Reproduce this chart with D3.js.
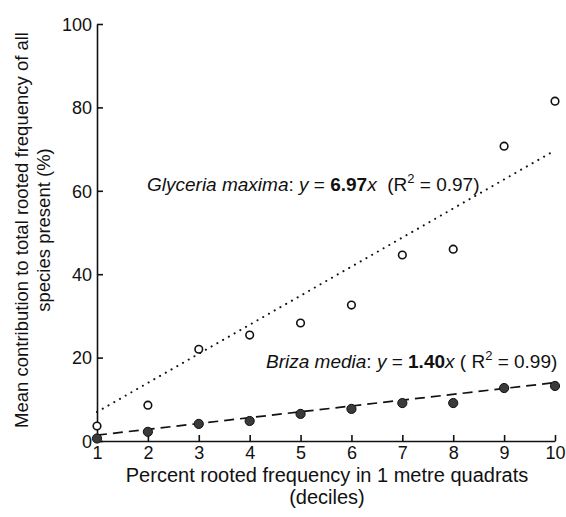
<!DOCTYPE html>
<html>
<head>
<meta charset="utf-8">
<script src="https://cdn.jsdelivr.net/npm/d3@7"></script>
<style>
  body { margin: 0; background: #fff; }
  text { font-family: "Liberation Sans", Arial, sans-serif; fill: #111; }
</style>
</head>
<body>
<svg id="chart" width="566" height="517"></svg>
<script>
const deciles = [1, 2, 3, 4, 5, 6, 7, 8, 9, 10];
const glyceria = [3.6, 8.6, 22, 25.4, 28.3, 32.6, 44.6, 46, 70.7, 81.5];
const briza = [0.6, 2.2, 4.1, 4.8, 6.5, 7.7, 9.1, 9.1, 12.7, 13.2];
const glyceriaSlope = 6.97;
const brizaSlope = 1.40;
const yTicks = [0, 20, 40, 60, 80, 100];

const svg = d3.select("#chart");
const x = d3.scaleLinear().domain([1, 10]).range([97, 555]);
const y = d3.scaleLinear().domain([0, 100]).range([441, 24]);

// axes, ticks point inward
const xAxis = svg.append("g")
  .attr("transform", `translate(0,${y(0)})`)
  .call(d3.axisBottom(x).tickValues(deciles).tickSizeInner(-6).tickSizeOuter(0).tickPadding(8));
const yAxis = svg.append("g")
  .attr("transform", `translate(${x(1)},0)`)
  .call(d3.axisLeft(y).tickValues(yTicks).tickSizeInner(-6).tickSizeOuter(0).tickPadding(5));

[xAxis, yAxis].forEach(g => {
  g.selectAll("path, line").attr("stroke", "#111").attr("stroke-width", 1.6);
  g.selectAll("text").style("font-size", "18px").attr("fill", "#111");
});
xAxis.selectAll("text").attr("dy", "0.55em");
yAxis.selectAll("text").attr("dy", "0.35em");

// regression lines
function fitLine(slope) {
  return [[1, slope], [10, slope * 10]];
}
const line = d3.line().x(d => x(d[0])).y(d => y(d[1]));

svg.append("path")
  .attr("d", line(fitLine(glyceriaSlope)))
  .attr("fill", "none").attr("stroke", "#111")
  .attr("stroke-width", 2).attr("stroke-linecap", "round")
  .attr("stroke-dasharray", "0.1 6.5");

svg.append("path")
  .attr("d", line(fitLine(brizaSlope)))
  .attr("fill", "none").attr("stroke", "#111")
  .attr("stroke-width", 1.7)
  .attr("stroke-dasharray", "10 6");

// points
svg.append("g").selectAll("circle")
  .data(deciles.map((d, i) => [d, glyceria[i]]))
  .join("circle")
  .attr("cx", d => x(d[0])).attr("cy", d => y(d[1]))
  .attr("r", 3.8).attr("fill", "#fff")
  .attr("stroke", "#111").attr("stroke-width", 1.6);

svg.append("g").selectAll("circle")
  .data(deciles.map((d, i) => [d, briza[i]]))
  .join("circle")
  .attr("cx", d => x(d[0])).attr("cy", d => y(d[1]))
  .attr("r", 4.6).attr("fill", "#3a3a3a")
  .attr("stroke", "#111").attr("stroke-width", 1);

// annotations
function equation(xPos, yPos, name, slope, r2, gap) {
  const t = svg.append("text").attr("x", xPos).attr("y", yPos).style("font-size", "19px");
  t.append("tspan").attr("font-style", "italic").text(name);
  t.append("tspan").text(": ");
  t.append("tspan").attr("font-style", "italic").text("y");
  t.append("tspan").text(" = ");
  t.append("tspan").attr("font-weight", "bold").text(slope.toFixed(2));
  t.append("tspan").attr("font-style", "italic").text("x");
  t.append("tspan").attr("xml:space", "preserve").text(gap);
  t.append("tspan").attr("dy", -8).style("font-size", "13px").text("2");
  t.append("tspan").attr("dy", 8).text(" = " + r2.toFixed(2) + ")");
}
equation(147, 191, "Glyceria maxima", glyceriaSlope, 0.97, "  (R");
equation(266, 368, "Briza media", brizaSlope, 0.99, " ( R");

// axis titles
svg.append("text")
  .attr("x", 327).attr("y", 482)
  .attr("text-anchor", "middle").style("font-size", "20px")
  .text("Percent rooted frequency in 1 metre quadrats");
svg.append("text")
  .attr("x", 327).attr("y", 504)
  .attr("text-anchor", "middle").style("font-size", "20px")
  .text("(deciles)");

const yt = svg.append("text")
  .attr("transform", "translate(28,230) rotate(-90)")
  .attr("text-anchor", "middle").style("font-size", "18.5px");
yt.append("tspan").attr("x", 0).attr("y", 0).text("Mean contribution to total rooted frequency of all");
yt.append("tspan").attr("x", 0).attr("y", 22).text("species present (%)");
</script>
</body>
</html>
